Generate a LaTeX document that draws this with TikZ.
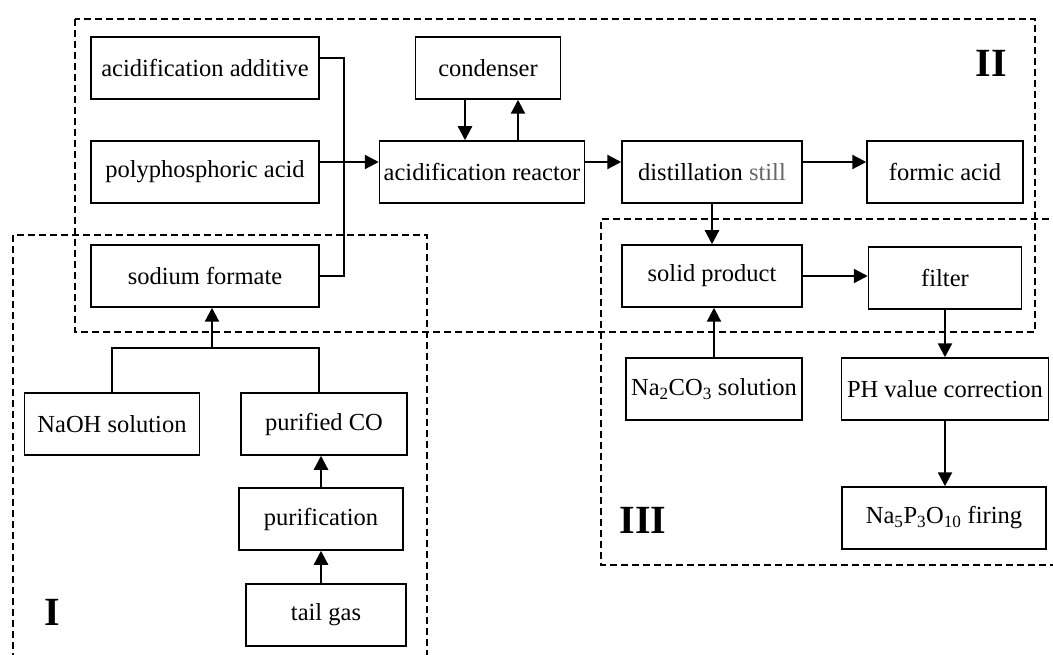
\documentclass[tikz,border=0pt]{standalone}
\usepackage{fontspec}
\setmainfont{Liberation Serif}
\usetikzlibrary{arrows.meta,positioning}

\tikzset{boite/.style = {rectangle, draw, line width=1.5pt, inner sep=0pt,
                         minimum height=62pt, minimum width=#1,
                         font=\fontsize{24.5}{28}\selectfont},
         boite/.default=180pt,
         fleche/.style = {line width=2.3pt, -{Triangle[length=14pt,width=14pt]}},
         trait/.style = {line width=1.6pt},
         zone/.style = {line width=1.6pt, dash pattern=on 7pt off 4pt},
         numero/.style = {font=\fontsize{40}{44}\selectfont\bfseries}
        }

\begin{document}
\begin{tikzpicture}[x=1pt, y=-1pt]
  \useasboundingbox (0,0) rectangle (1053,655);
  % zones
  \draw[zone] (75,19) rectangle (1035,332);
  \draw[zone] (13,660) |- (427,235) -- (427,660);
  \draw[zone] (1060,219) -| (601,565) -- (1060,565);
  \node[numero] at (991,63) {II};
  \node[numero] at (52,612) {I};
  \node[numero] at (643,520) {III};

  % part II
  \node[boite=228pt] (additif) at (205,68)  {acidification additive};
  \node[boite=228pt] (poly)    at (205,172) {polyphosphoric acid};
  \node[boite=228pt] (formiat) at (205,276) {sodium formate};
  \node[boite=145pt] (cond)    at (488,68)  {condenser};
  \node[boite=205pt] (reac)    at (482,172) {acidification reactor};
  \node[boite=180pt] (still)   at (712,172) {distillation \textcolor{black!60}{still}};
  \node[boite=156pt] (acide)   at (945,172) {formic acid};

  % part III
  \node[boite=180pt] (solide)  at (712,276) {solid product};
  \node[boite=153pt] (filtre)  at (945,278) {filter};
  \node[boite=176pt] (carbo)   at (714,389) {Na\textsubscript{2}CO\textsubscript{3} solution};
  \node[boite=207pt] (ph)      at (945,389) {PH value correction};
  \node[boite=204pt] (cuisson) at (944,518) {Na\textsubscript{5}P\textsubscript{3}O\textsubscript{10} firing};

  % part I
  \node[boite=175pt] (naoh)    at (112,424) {NaOH solution};
  \node[boite=166pt] (purco)   at (324,424) {purified CO};
  \node[boite=164pt] (purif)   at (321,519) {purification};
  \node[boite=160pt] (gaz)     at (326,615) {tail gas};

  % connectors
  \draw[trait] ([yshift=10pt]additif.east) -- ++(24,0) |- (formiat.east);
  \draw[fleche] ([yshift=10pt]poly.east) -- ([yshift=10pt]reac.west);
  \draw[fleche] ([xshift=-23pt]cond.south) -- ([xshift=-23pt]cond.south |- reac.north);
  \draw[fleche] ([xshift=30pt]cond.south |- reac.north) -- ([xshift=30pt]cond.south);
  \draw[fleche] ([yshift=10pt]reac.east) -- ([yshift=10pt]still.west);
  \draw[fleche] ([yshift=10pt]still.east) -- ([yshift=10pt]acide.west);
  \draw[fleche] (still.south) -- (solide.north);
  \draw[fleche] (carbo.north) -- (carbo.north |- solide.south);
  \draw[fleche] (solide.east) -- (solide.east -| filtre.west);
  \draw[fleche] (filtre.south) -- (filtre.south |- ph.north);
  \draw[fleche] (ph.south) -- (ph.south |- cuisson.north);

  \coordinate (jonc) at (212,348);
  \draw[trait] (naoh.north) |- (jonc) -| ([xshift=-5pt]purco.north);
  \draw[fleche] (jonc) -- (jonc |- formiat.south);
  \draw[fleche] (purif.north) -- (purif.north |- purco.south);
  \draw[fleche] (purif.south |- gaz.north) -- (purif.south);
\end{tikzpicture}
\end{document}
